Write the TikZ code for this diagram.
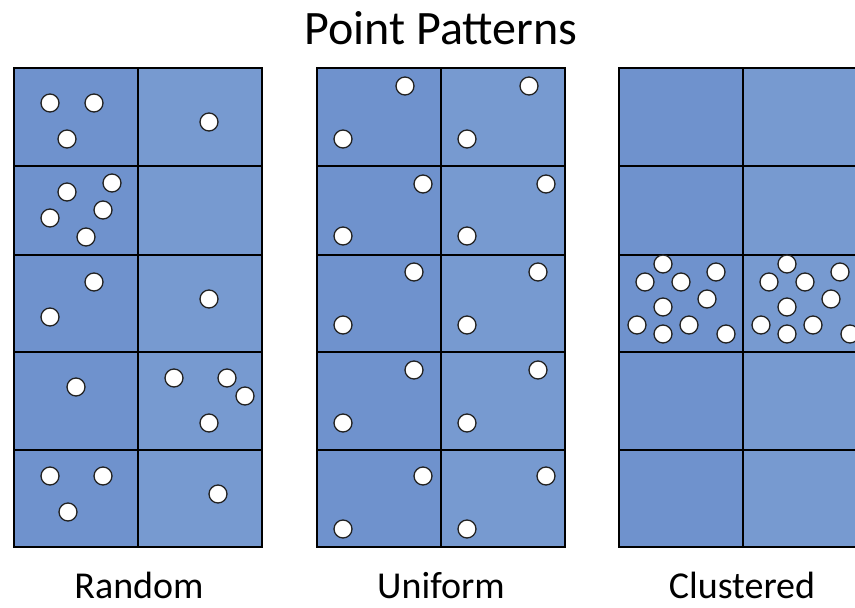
\documentclass[tikz,border=0pt]{standalone}
\usepackage{fontspec}
\setmainfont{Carlito}
\definecolor{cellA}{HTML}{6F92CD}
\definecolor{cellB}{HTML}{779AD0}
\definecolor{dotline}{HTML}{222222}
\begin{document}
\begin{tikzpicture}[x=1pt,y=-1pt,
  gridline/.style={draw=black, line width=1.3pt},
  dot/.style={circle, draw=dotline, fill=white, line width=1.3pt, minimum size=18pt, inner sep=0pt},
  title/.style={anchor=base, inner sep=0pt, font=\fontsize{48}{56}\selectfont},
  caption/.style={anchor=base, inner sep=0pt, font=\fontsize{38}{44}\selectfont}]
\useasboundingbox (0,0) rectangle (855,608);
\fill[white] (0,0) rectangle (855,608);
% grids
\foreach \gx in {14,317,619} {
  \fill[cellA] (\gx,68) rectangle ++(124,479);
  \fill[cellB] (\gx+124,68) rectangle ++(124,479);
  \foreach \ry in {166,255,352,450} \draw[gridline] (\gx,\ry) -- ++(248,0);
  \draw[gridline] (\gx+124,68) -- (\gx+124,547);
  \draw[gridline] (\gx,68) rectangle ++(248,479);
}
% Random
\foreach \i/\x/\y in {1/50/103, 2/94/103, 3/67/139, 4/209/122,
  5/112/183, 6/67/192, 7/50/218, 8/103/210, 9/86/237,
  10/94/282, 11/50/317, 12/209/299,
  13/76/387, 14/174/378, 15/227/378, 16/245/396, 17/209/423,
  18/50/476, 19/103/476, 20/68/512, 21/218/494}
  \node[dot] (r\i) at (\x,\y) {};
% Uniform
\foreach \i/\x/\y in {1/405/86, 2/343/139, 3/529/86, 4/467/139,
  5/423/184, 6/343/236, 7/546/184, 8/467/236,
  9/414/272, 10/343/325, 11/538/272, 12/467/325,
  13/414/370, 14/343/423, 15/538/370, 16/467/423,
  17/423/476, 18/343/529, 19/546/476, 20/467/529}
  \node[dot] (u\i) at (\x,\y) {};
% Clustered
\foreach \j/\dx in {0/0, 1/124} {
  \foreach \i/\x/\y in {1/663/264, 2/645/282, 3/681/282, 4/716/272, 5/707/299,
    6/663/307, 7/637/325, 8/663/334, 9/689/325, 10/726/334}
    \node[dot] (c\j-\i) at (\x+\dx,\y) {};
}
% texts
\node[title] (ttl) at (441,44) {Point Patterns};
\node[caption] (lr) at (139,598) {Random};
\node[caption] (lu) at (441,598) {Uniform};
\node[caption] (lc) at (742,598) {Clustered};
\end{tikzpicture}
\end{document}
